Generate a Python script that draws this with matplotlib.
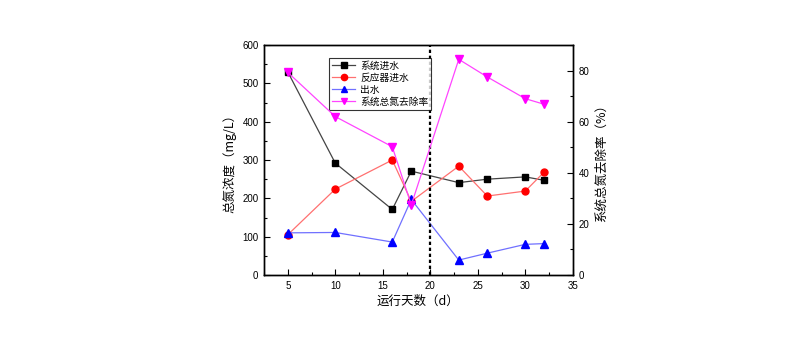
import matplotlib
matplotlib.use("Agg")
import matplotlib.pyplot as plt
from matplotlib.ticker import MultipleLocator

plt.rcParams['font.family'] = ['Liberation Sans', 'Noto Sans CJK SC', 'DejaVu Sans']

days = [5, 10, 16, 18, 23, 26, 30, 32]
system_in = [530, 292, 171, 271, 241, 250, 256, 247]
reactor_in = [105, 224, 300, 192, 284, 206, 219, 269]
effluent = [110, 111, 86, 197, 39, 57, 80, 82]
removal = [79.3, 62, 50.2, 27.4, 84.4, 77.5, 69, 66.8]

labels = ['系统进水', '反应器进水', '出水', '系统总氮去除率']
xlabel = '运行天数（d）'
ylabel_left = '总氮浓度（mg/L）'
ylabel_right = '系统总氮去除率（%）'

fig = plt.figure(figsize=(8, 3.41), dpi=100)
ax = fig.add_axes([0.33, 0.1935, 0.386, 0.6745])
ax2 = ax.twinx()

l1, = ax.plot(days, system_in, color='#444444', lw=0.9, marker='s', ms=4.3,
              mfc='black', mec='black', label=labels[0])
l2, = ax.plot(days, reactor_in, color='#ff7070', lw=0.9, marker='o', ms=5,
              mfc='red', mec='red', label=labels[1])
l3, = ax.plot(days, effluent, color='#7070ff', lw=0.9, marker='^', ms=5.3,
              mfc='blue', mec='blue', label=labels[2])
l4, = ax2.plot(days, removal, color='#ff44ff', lw=0.9, marker='v', ms=5.3,
               mfc='magenta', mec='magenta', label=labels[3])
ax.axvline(20, color='black', ls=(0, (1.5, 1.2)), lw=1.6)

ax.set_xlim(2.5, 35)
ax.set_ylim(0, 600)
ax2.set_ylim(0, 90)
ax.xaxis.set_major_locator(MultipleLocator(5))
ax.xaxis.set_minor_locator(MultipleLocator(2.5))
ax.yaxis.set_major_locator(MultipleLocator(100))
ax.yaxis.set_minor_locator(MultipleLocator(50))
ax2.yaxis.set_major_locator(MultipleLocator(20))
ax2.yaxis.set_minor_locator(MultipleLocator(10))

for a in (ax, ax2):
    a.tick_params(which='both', direction='in', labelsize=7, pad=4)
    a.tick_params(which='major', length=4, width=0.8)
    a.tick_params(which='minor', length=2.5, width=0.8)
    for s in a.spines.values():
        s.set_linewidth(1.0)

cjk = ['Noto Sans CJK SC', 'DejaVu Sans']
ax.set_xlabel(xlabel, fontsize=9, family=cjk, labelpad=3)
ax.set_ylabel(ylabel_left, fontsize=9, family=cjk, labelpad=4)
ax2.set_ylabel(ylabel_right, fontsize=9, family=cjk, labelpad=4)

leg = ax.legend(handles=[l1, l2, l3, l4], loc='upper left',
                bbox_to_anchor=(0.195, 0.965), prop={'family': cjk, 'size': 7},
                frameon=True, fancybox=False, edgecolor='black',
                borderpad=0.3, labelspacing=0.2, handlelength=2.4,
                handletextpad=0.5, markerscale=0.9)
leg.get_frame().set_linewidth(0.8)

fig.savefig('out.png', dpi=100)
